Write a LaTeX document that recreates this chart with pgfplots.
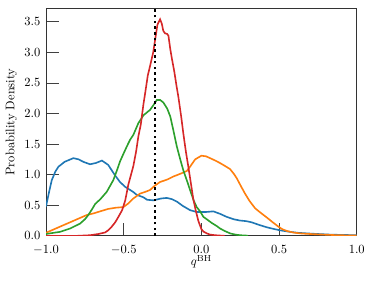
\documentclass[border=0pt]{standalone}
\usepackage{pgfplots}
\pgfplotsset{compat=1.18}
\definecolor{tabblue}{HTML}{1F77B4}
\definecolor{taborange}{HTML}{FF7F0E}
\definecolor{tabgreen}{HTML}{2CA02C}
\definecolor{tabred}{HTML}{D62728}
\begin{document}
\begin{tikzpicture}
\begin{axis}[
  name=ax,
  scale only axis,
  width=248.5pt, height=182pt,
  xmin=-1, xmax=1, ymin=0, ymax=3.72,
  xtick={-1,-0.5,0,0.5,1},
  ytick={0,0.5,1,1.5,2,2.5,3,3.5},
  xticklabel style={yshift=-4pt,/pgf/number format/.cd,fixed,fixed zerofill,precision=1},
  yticklabel style={xshift=-1pt,/pgf/number format/.cd,fixed,fixed zerofill,precision=1},
  xtick pos=bottom, ytick pos=left,
  tick align=inside,
  major tick length=10pt,
  tick style={black!75, line width=0.6pt},
  axis line style={black!80, line width=0.8pt},
  xlabel={$q^{\mathrm{BH}}$},
  ylabel={Probability Density},
  xlabel style={yshift=6pt},
  ylabel style={yshift=-1pt},
  every axis plot/.append style={line width=1.3pt},
  clip=true,
]
\addplot[tabblue] coordinates {
(-1.0,0.48) (-0.98,0.72) (-0.963,0.91) (-0.94,1.05) (-0.92,1.13) (-0.88,1.21) (-0.824,1.27) (-0.79,1.25) (-0.76,1.21) (-0.717,1.17) (-0.68,1.19) (-0.64,1.23) (-0.60,1.16) (-0.556,0.99) (-0.524,0.88) (-0.49,0.80) (-0.44,0.72) (-0.416,0.67) (-0.373,0.63) (-0.35,0.59) (-0.309,0.58) (-0.26,0.61) (-0.223,0.62) (-0.19,0.60) (-0.158,0.56) (-0.12,0.49) (-0.073,0.42) (-0.03,0.39) (0.03,0.39) (0.077,0.40) (0.12,0.36) (0.163,0.31) (0.21,0.27) (0.249,0.25) (0.29,0.24) (0.325,0.22) (0.37,0.18) (0.421,0.14) (0.47,0.11) (0.507,0.09) (0.571,0.065) (0.62,0.05) (0.679,0.04) (0.75,0.03) (0.829,0.02) (0.9,0.015) (1.0,0.01)
};
\addplot[taborange] coordinates {
(-1.0,0.05) (-0.91,0.15) (-0.824,0.245) (-0.738,0.34) (-0.69,0.37) (-0.652,0.40) (-0.60,0.44) (-0.55,0.46) (-0.502,0.47) (-0.47,0.53) (-0.438,0.61) (-0.395,0.69) (-0.36,0.72) (-0.33,0.75) (-0.30,0.82) (-0.266,0.88) (-0.22,0.92) (-0.18,0.97) (-0.13,1.02) (-0.094,1.06) (-0.073,1.13) (-0.04,1.25) (0.0,1.31) (0.03,1.30) (0.056,1.27) (0.09,1.23) (0.12,1.19) (0.16,1.13) (0.185,1.09) (0.21,1.01) (0.228,0.94) (0.255,0.81) (0.281,0.69) (0.31,0.57) (0.346,0.45) (0.38,0.38) (0.421,0.30) (0.46,0.22) (0.496,0.15) (0.52,0.11) (0.55,0.08) (0.59,0.055) (0.636,0.04) (0.70,0.03) (0.786,0.02) (0.86,0.012) (0.93,0.008) (1.0,0.005)
};
\addplot[tabgreen] coordinates {
(-1.0,0.03) (-0.95,0.05) (-0.91,0.065) (-0.845,0.12) (-0.781,0.20) (-0.75,0.27) (-0.728,0.34) (-0.70,0.45) (-0.684,0.52) (-0.65,0.60) (-0.609,0.72) (-0.567,0.91) (-0.545,1.06) (-0.523,1.22) (-0.50,1.35) (-0.48,1.46) (-0.459,1.57) (-0.438,1.65) (-0.406,1.84) (-0.373,1.97) (-0.33,2.06) (-0.305,2.15) (-0.287,2.22) (-0.265,2.22) (-0.245,2.18) (-0.22,2.08) (-0.2,1.95) (-0.18,1.72) (-0.158,1.46) (-0.135,1.24) (-0.116,1.07) (-0.09,0.88) (-0.073,0.75) (-0.05,0.58) (-0.03,0.47) (-0.008,0.40) (0.013,0.31) (0.035,0.27) (0.067,0.21) (0.099,0.16) (0.12,0.12) (0.15,0.08) (0.185,0.04) (0.22,0.02) (0.25,0.01) (0.3,0.003)
};
\addplot[tabred] coordinates {
(-1.0,0.0) (-0.8,0.0) (-0.717,0.01) (-0.663,0.03) (-0.62,0.055) (-0.60,0.09) (-0.577,0.15) (-0.555,0.22) (-0.534,0.31) (-0.51,0.42) (-0.49,0.58) (-0.47,0.84) (-0.455,0.98) (-0.438,1.14) (-0.42,1.38) (-0.406,1.62) (-0.39,1.82) (-0.373,2.15) (-0.362,2.33) (-0.345,2.62) (-0.33,2.78) (-0.31,3.0) (-0.298,3.2) (-0.283,3.45) (-0.266,3.54) (-0.255,3.47) (-0.245,3.35) (-0.234,3.31) (-0.22,3.30) (-0.212,3.27) (-0.2,3.05) (-0.19,2.90) (-0.174,2.68) (-0.16,2.45) (-0.148,2.27) (-0.13,1.95) (-0.116,1.67) (-0.1,1.38) (-0.084,1.13) (-0.07,0.90) (-0.052,0.60) (-0.035,0.40) (-0.019,0.24) (0.0,0.11) (0.013,0.07) (0.035,0.04) (0.056,0.02) (0.09,0.01) (0.15,0.0)
};
\addplot[black, line width=2pt, dash pattern=on 2pt off 2.6pt] coordinates {(-0.3,0) (-0.3,3.72)};
\end{axis}
\pgfresetboundingbox
\path ([shift={(-36.8pt,-35.4pt)}]ax.south west) rectangle ([shift={(13.8pt,6.6pt)}]ax.north east);
\end{tikzpicture}
\end{document}
